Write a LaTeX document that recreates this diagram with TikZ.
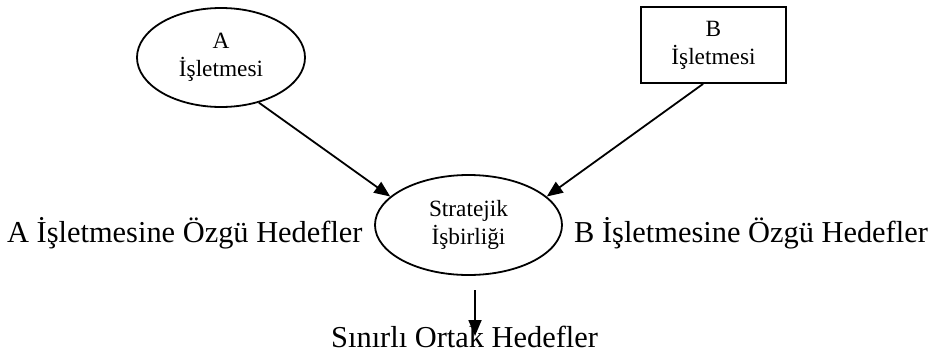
\documentclass[tikz,border=0pt]{standalone}
\usepackage{fontspec}
\setmainfont{Liberation Serif}
\usetikzlibrary{shapes.geometric,arrows.meta}

\tikzset{
  firm/.style={draw=black, line width=1.8pt, align=center, inner sep=0pt,
    font=\fontsize{23.3}{28}\selectfont},
  goal/.style={inner sep=0pt, font=\fontsize{30.4}{36}\selectfont},
  link/.style={black, line width=1.8pt, -{Triangle[length=16pt,width=13pt]}}
}

\begin{document}
\begin{tikzpicture}[x=1pt, y=-1pt]
        \useasboundingbox (0,0) rectangle (934,354);
        \node[firm, ellipse, minimum width=168pt, minimum height=99pt] (firmA) at (221,57.5) {A\\İşletmesi};
        \node[firm, rectangle, minimum width=145pt, minimum height=76pt] (firmB) at (713.5,45) {B\\İşletmesi};
        \node[firm, ellipse, minimum width=187pt, minimum height=100pt] (alliance) at (468.5,225) {Stratejik\\İşbirliği};
        \node[goal, anchor=base west] (goalA) at (7,242) {A İşletmesine Özgü Hedefler};
        \node[goal, anchor=base west] (goalB) at (574,242) {B İşletmesine Özgü Hedefler};
        \node[goal, anchor=base west] (common) at (331,347) {Sınırlı Ortak Hedefler};
        \draw[link] (firmA.-50) -- (alliance.160);
        \draw[link] (firmB.-105) -- (alliance.20);
        \coordinate (down1) at (475,290);
        \coordinate (down2) at (475,336);
        \draw[link] (down1) -- (down2);
\end{tikzpicture}
\end{document}
